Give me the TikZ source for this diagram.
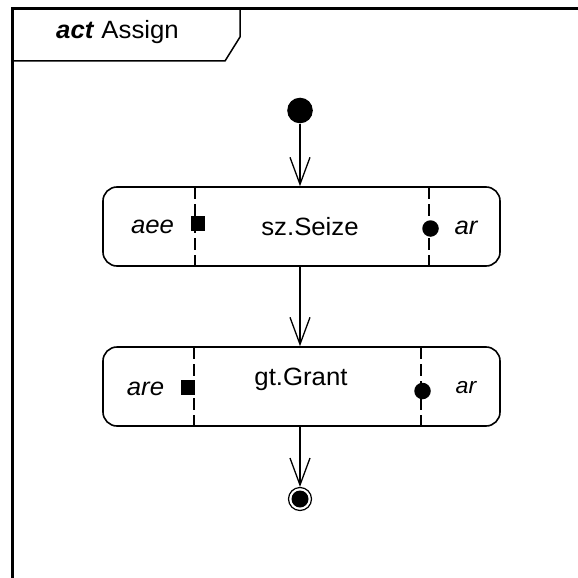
\documentclass[tikz,border=0pt]{standalone}
\usepackage{fontspec}
\setmainfont{Liberation Sans}[FakeStretch=1.03]
\usetikzlibrary{arrows.meta}
\begin{document}
\begin{tikzpicture}[x=1pt,y=-1pt,
  flow/.style={line width=1.3pt,-{Straight Barb[length=27pt,width=20pt,line width=1.3pt]}},
  action/.style={draw,line width=1.6pt,rounded corners=14pt,minimum width=397pt,minimum height=79pt,inner sep=0pt},
  lbl/.style={anchor=base,inner sep=0pt,font=\fontsize{25}{30}\selectfont},
  ilbl/.style={lbl,font=\fontsize{25}{30}\selectfont\itshape},
  partition/.style={line width=1.2pt,dash pattern=on 12pt off 5pt},
  sqpin/.style={rectangle,fill=black,minimum width=14pt,minimum height=15pt,inner sep=0pt},
  dotpin/.style={circle,fill=black,minimum size=16.5pt,inner sep=0pt}
]
\useasboundingbox (0,0) rectangle (578,578);
\clip (0,0) rectangle (578,578);

% diagram frame and its name tab
\draw[line width=2.6pt] (12.5,700) |- (700,8.5);
\draw[line width=1.5pt] (240,8.5) -- (240,37) -- (225,61) -- (12.5,61);
\node[lbl] (title) at (117.5,38.3) {\textbf{\textit{act}} Assign};

% initial and final nodes
\node[circle,fill=black,minimum size=25.6pt,inner sep=0pt] (start) at (300,110.5) {};
\node[circle,draw,line width=1.2pt,minimum size=23pt,inner sep=0pt] (end) at (300,499) {};
\fill (end.center) circle[radius=8.5pt];

% first action: sz.Seize
\node[action] (seize) at (301.5,226.5) {};
\draw[partition] (195,187) -- (195,266);
\draw[partition] (429,187) -- (429,266);
\node[sqpin] (seizeIn) at (197.5,223) {};
\node[dotpin] (seizeOut) at (430.5,228.5) {};
\node[lbl] (seizeName) at (310,235) {sz.Seize};
\node[ilbl] (seizeInName) at (152.5,233) {aee};
\node[ilbl] (seizeOutName) at (466,234) {ar};

% second action: gt.Grant
\node[action] (grant) at (301.5,386.5) {};
\draw[partition] (194,347) -- (194,426);
\draw[partition] (421,347) -- (421,426);
\node[sqpin] (grantIn) at (188,387) {};
\node[dotpin] (grantOut) at (422.5,391) {};
\node[lbl] (grantName) at (301,385) {gt.Grant};
\node[ilbl] (grantInName) at (145.5,395) {are};
\node[ilbl,font=\fontsize{22.5}{27}\selectfont\itshape] (grantOutName) at (466,393) {ar};

% control flows
\draw[flow] (start) -- (start |- seize.north);
\draw[flow] (seize.south -| start) -- (grant.north -| start);
\draw[flow] (grant.south -| end) -- (end);
\end{tikzpicture}
\end{document}
